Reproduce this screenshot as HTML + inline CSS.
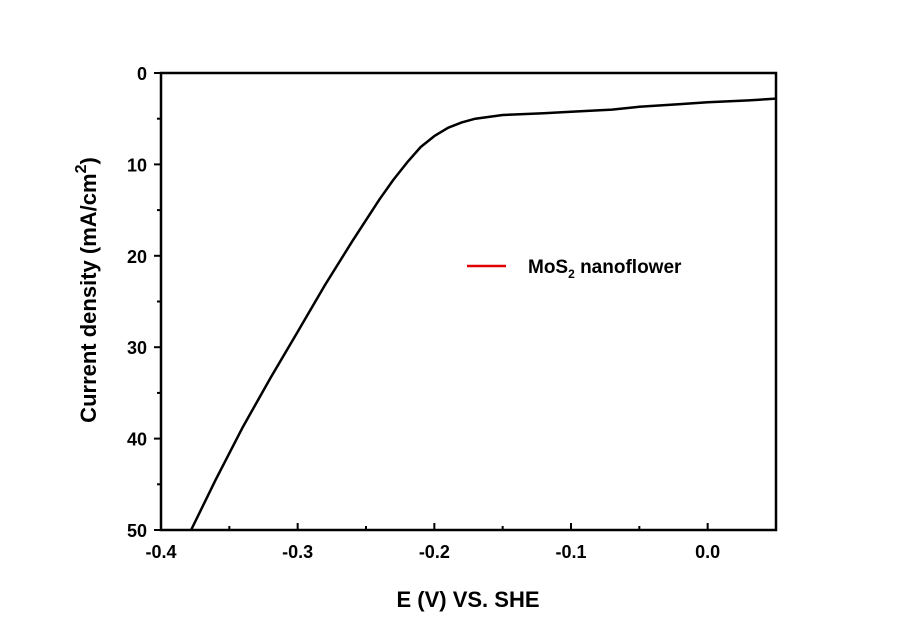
<!DOCTYPE html>
<html><head><meta charset="utf-8"><style>
body{margin:0;background:#fff}
text{font-family:"Liberation Sans",Arial,sans-serif;font-weight:bold}
</style></head><body>
<svg id="chart" width="900" height="636" viewBox="0 0 900 636">
<g id="g"></g>
</svg>
<script>
const xTicks=[-0.4,-0.3,-0.2,-0.1,0.0];
const xTickLabels=["-0.4","-0.3","-0.2","-0.1","0.0"];
const yTicks=[0,10,20,30,40,50];
const potential=[-0.378,-0.36,-0.34,-0.32,-0.3,-0.28,-0.26,-0.24,-0.23,-0.22,-0.21,-0.2,-0.19,-0.18,-0.17,-0.16,-0.15,-0.12,-0.1,-0.07,-0.05,-0.02,0.0,0.03,0.05];
const currentDensity=[50,44.5,38.7,33.4,28.3,23.2,18.4,13.8,11.7,9.8,8.1,6.9,6.0,5.4,5.0,4.8,4.6,4.4,4.25,4.0,3.7,3.4,3.2,3.0,2.8];
const L=161,R=776,T=73,B=530;
const xs=v=>L+(v+0.4)/0.45*(R-L);
const ys=v=>T+v/50*(B-T);
const NS="http://www.w3.org/2000/svg";
const g=document.getElementById('g');
function mk(t,a,txt){const e=document.createElementNS(NS,t);for(const k in a)e.setAttribute(k,a[k]);if(txt!==undefined)e.textContent=txt;g.appendChild(e);return e;}
let e=mk('rect',{x:L,y:T,width:R-L,height:B-T,fill:'none',stroke:'#000','stroke-width':2.5});


xTicks.forEach((v,i)=>{
 let t=mk('line',{x1:xs(v),x2:xs(v),y1:B,y2:B-7,stroke:'#000','stroke-width':2});
 
 
 let m=mk('line',{x1:xs(v+0.05),x2:xs(v+0.05),y1:B,y2:B-4,stroke:'#000','stroke-width':2});
 
 
 let l=mk('text',{x:xs(v),y:B+28,'text-anchor':'middle','font-size':18},xTickLabels[i]);
 
 
});
yTicks.forEach(v=>{
 let t=mk('line',{x1:L-7,x2:L,y1:ys(v),y2:ys(v),stroke:'#000','stroke-width':2});
 
 
 if(v<50){let m=mk('line',{x1:L-4,x2:L,y1:ys(v+5),y2:ys(v+5),stroke:'#000','stroke-width':2});
 
 }
 let l=mk('text',{x:L-14,y:ys(v)+7,'text-anchor':'end','font-size':18},String(v));
 
 
});
let d=potential.map((p,i)=>(i?'L':'M')+xs(p).toFixed(1)+','+ys(currentDensity[i]).toFixed(1)).join(' ');
let c=mk('path',{d:d,fill:'none',stroke:'#000','stroke-width':2.5,'stroke-linejoin':'round'});


let ll=mk('line',{x1:467,x2:506,y1:266,y2:266,stroke:'#e00000','stroke-width':2.5});


let lt=mk('text',{x:528,y:273,'font-size':19});
lt.innerHTML='MoS<tspan font-size="12" dy="5">2</tspan><tspan dy="-5"> nanoflower</tspan>';


let xt=mk('text',{x:468,y:607,'text-anchor':'middle','font-size':22},'E (V) VS. SHE');


let yt=mk('text',{x:0,y:0,'text-anchor':'middle','font-size':22,transform:'translate(96,290) rotate(-90)'});
yt.innerHTML='Current density (mA/cm<tspan font-size="16" dy="-10">2</tspan><tspan dy="10">)</tspan>';


</script>
</body></html>
